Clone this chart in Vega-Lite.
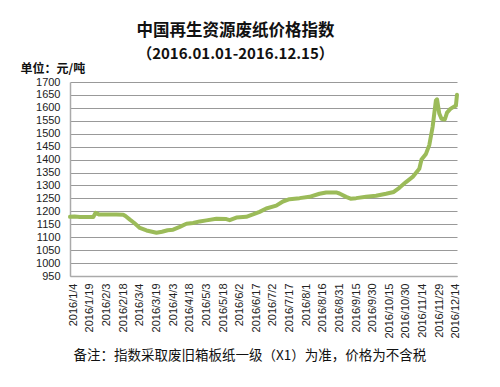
{
  "$schema": "https://vega.github.io/schema/vega-lite/v6.json",
  "autosize": {"type": "none"},
  "padding": {"left": 70, "top": 82, "right": 43, "bottom": 111},
  "width": 387,
  "height": 194,
  "background": "white",
  "title": {
    "text": "中国再生资源废纸价格指数",
    "subtitle": "（2016.01.01-2016.12.15）",
    "anchor": "middle",
    "dx": -28,
    "offset": 0,
    "font": "Noto Sans CJK SC",
    "fontSize": 16.5,
    "fontWeight": "bold",
    "color": "#111",
    "subtitleFont": "Noto Sans CJK SC",
    "subtitleFontSize": 15,
    "subtitleFontWeight": "bold",
    "subtitleColor": "#111",
    "subtitlePadding": 8
  },
  "data": {
    "values": [
      {"date": "2016-01-01", "value": 1179},
      {"date": "2016-01-05", "value": 1180},
      {"date": "2016-01-10", "value": 1178},
      {"date": "2016-01-15", "value": 1178},
      {"date": "2016-01-22", "value": 1178},
      {"date": "2016-01-24", "value": 1194},
      {"date": "2016-01-27", "value": 1188},
      {"date": "2016-02-05", "value": 1188},
      {"date": "2016-02-12", "value": 1188},
      {"date": "2016-02-18", "value": 1187},
      {"date": "2016-02-20", "value": 1182},
      {"date": "2016-02-24", "value": 1168},
      {"date": "2016-02-28", "value": 1155},
      {"date": "2016-03-04", "value": 1136},
      {"date": "2016-03-10", "value": 1126},
      {"date": "2016-03-15", "value": 1121},
      {"date": "2016-03-19", "value": 1117},
      {"date": "2016-03-24", "value": 1121},
      {"date": "2016-03-29", "value": 1127},
      {"date": "2016-04-03", "value": 1129},
      {"date": "2016-04-09", "value": 1140},
      {"date": "2016-04-15", "value": 1152},
      {"date": "2016-04-21", "value": 1155},
      {"date": "2016-04-27", "value": 1161},
      {"date": "2016-05-03", "value": 1165},
      {"date": "2016-05-12", "value": 1171},
      {"date": "2016-05-21", "value": 1170},
      {"date": "2016-05-24", "value": 1166},
      {"date": "2016-05-30", "value": 1176},
      {"date": "2016-06-08", "value": 1179},
      {"date": "2016-06-14", "value": 1188},
      {"date": "2016-06-20", "value": 1198},
      {"date": "2016-06-26", "value": 1211},
      {"date": "2016-07-05", "value": 1222},
      {"date": "2016-07-11", "value": 1238},
      {"date": "2016-07-17", "value": 1247},
      {"date": "2016-07-26", "value": 1251},
      {"date": "2016-08-04", "value": 1256},
      {"date": "2016-08-13", "value": 1268},
      {"date": "2016-08-19", "value": 1273},
      {"date": "2016-08-28", "value": 1273},
      {"date": "2016-08-31", "value": 1269},
      {"date": "2016-09-06", "value": 1256},
      {"date": "2016-09-10", "value": 1249},
      {"date": "2016-09-15", "value": 1251},
      {"date": "2016-09-24", "value": 1256},
      {"date": "2016-10-03", "value": 1260},
      {"date": "2016-10-12", "value": 1268},
      {"date": "2016-10-19", "value": 1275},
      {"date": "2016-10-24", "value": 1291},
      {"date": "2016-10-30", "value": 1313},
      {"date": "2016-11-05", "value": 1333},
      {"date": "2016-11-11", "value": 1365},
      {"date": "2016-11-13", "value": 1400},
      {"date": "2016-11-17", "value": 1422},
      {"date": "2016-11-20", "value": 1456},
      {"date": "2016-11-23", "value": 1526},
      {"date": "2016-11-26", "value": 1629},
      {"date": "2016-11-27", "value": 1633},
      {"date": "2016-11-29", "value": 1578},
      {"date": "2016-12-01", "value": 1558},
      {"date": "2016-12-04", "value": 1555},
      {"date": "2016-12-06", "value": 1582},
      {"date": "2016-12-09", "value": 1596},
      {"date": "2016-12-12", "value": 1604},
      {"date": "2016-12-14", "value": 1608},
      {"date": "2016-12-15", "value": 1651}
    ]
  },
  "mark": {"type": "line", "color": "#9BBB59", "strokeWidth": 4, "strokeJoin": "round", "strokeCap": "round"},
  "encoding": {
    "x": {
      "field": "date",
      "type": "temporal",
      "scale": {"domain": ["2016-01-01", "2016-12-15"]},
      "axis": {
        "values": ["2016-01-04","2016-01-19","2016-02-03","2016-02-18","2016-03-04","2016-03-19","2016-04-03","2016-04-18","2016-05-03","2016-05-18","2016-06-02","2016-06-17","2016-07-02","2016-07-17","2016-08-01","2016-08-16","2016-08-31","2016-09-15","2016-09-30","2016-10-15","2016-10-30","2016-11-14","2016-11-29","2016-12-14"],
        "format": "%Y/%-m/%-d",
        "labelAngle": 270,
        "labelAlign": "right",
        "labelBaseline": "middle",
        "labelPadding": 7,
        "labelFont": "Liberation Sans",
        "labelFontSize": 11,
        "labelColor": "#222",
        "labelOverlap": false,
        "labelFlush": false,
        "ticks": false,
        "grid": false,
        "domainColor": "#aaa",
        "domainWidth": 1.5,
        "title": "备注：指数采取废旧箱板纸一级（X1）为准，价格为不含税",
        "titleFont": "Noto Sans CJK SC",
        "titleFontSize": 13.5,
        "titleFontWeight": "normal",
        "titleColor": "#111",
        "titleAnchor": "start",
        "titleAlign": "left",
        "titleBaseline": "middle",
        "titleX": 3,
        "titleY": 79
      }
    },
    "y": {
      "field": "value",
      "type": "quantitative",
      "scale": {"domain": [950, 1700], "nice": false, "zero": false},
      "axis": {
        "values": [950,1000,1050,1100,1150,1200,1250,1300,1350,1400,1450,1500,1550,1600,1650,1700],
        "format": "d",
        "labelFont": "Liberation Sans",
        "labelFontSize": 11,
        "labelColor": "#222",
        "labelPadding": 10,
        "ticks": false,
        "grid": true,
        "gridColor": "#999",
        "gridWidth": 1,
        "domainColor": "#aaa",
        "domainWidth": 1.5,
        "title": "单位：元/吨",
        "titleFont": "Noto Sans CJK SC",
        "titleFontSize": 12,
        "titleFontWeight": "bold",
        "titleColor": "#111",
        "titleAngle": 0,
        "titleAlign": "left",
        "titleBaseline": "middle",
        "titleX": -50,
        "titleY": -14
      }
    }
  },
  "config": {"view": {"stroke": null}}
}
